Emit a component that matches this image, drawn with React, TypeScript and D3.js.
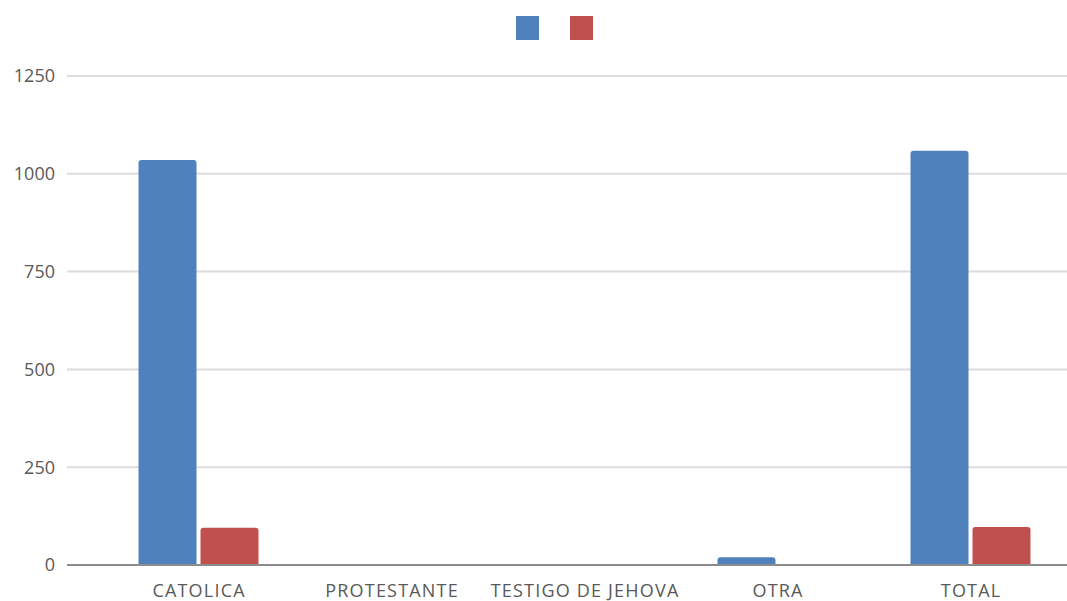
import React from "react";
import * as d3 from "d3";

const categories = ["CATOLICA", "PROTESTANTE", "TESTIGO DE JEHOVA", "OTRA", "TOTAL"];
const seriesNames = ["", ""];
const seriesA = [1035, 0, 0, 20, 1059];
const seriesB = [95, 0, 0, 0, 97];
const yTicks = [0, 250, 500, 750, 1000, 1250];
const colors = ["#4f81bd", "#c0504d"];

const W = 1067;
const H = 601;
const plotLeft = 67;
const plotRight = 1067;
const y0 = 565;
const yTop = 76;

function topRoundedRect(x: number, y: number, w: number, h: number, r: number) {
  const rr = Math.min(r, h, w / 2);
  return `M${x},${y + h}V${y + rr}Q${x},${y} ${x + rr},${y}H${x + w - rr}Q${x + w},${y} ${x + w},${y + rr}V${y + h}Z`;
}

export default function App() {
  const y = d3.scaleLinear().domain([0, 1250]).range([y0, yTop]);
  const x = d3.scaleBand<string>().domain(categories).range([102, 1067]).paddingInner(0).paddingOuter(0);
  const series = [seriesA, seriesB];
  const inner = d3
    .scaleBand<number>()
    .domain([0, 1])
    .range([0, 120])
    .paddingInner(4 / 62);
  const font = "'Open Sans', 'Noto Sans', sans-serif";
  const ls = 1.2;

  return (
    <svg width={W} height={H} style={{ position: "absolute", left: 0, top: 0, background: "#fff" }}>
      {/* legend */}
      {seriesNames.map((n, i) => (
        <rect key={"lg" + i} x={516 + i * 54} y={16} width={23} height={24} fill={colors[i]} />
      ))}
      {/* gridlines */}
      {yTicks.map((t) => (
        <g key={"g" + t}>
          {t !== 0 && (
            <line x1={plotLeft} x2={plotRight} y1={y(t)} y2={y(t)} stroke="#dcdcdc" strokeWidth={2} />
          )}
          <text
            x={55}
            y={y(t)}
            dy="0.35em"
            textAnchor="end"
            fontFamily={font}
            fontSize={18}
            fill="#595959"
          >
            {t}
          </text>
        </g>
      ))}
      {/* bars */}
      {categories.map((c, ci) => {
        const cx = (x(c) as number) + x.bandwidth() / 2;
        return series.map((s, si) => {
          const v = s[ci];
          if (v <= 0) return null;
          const bx = cx - 60 + (inner(si) as number);
          const by = y(v);
          return (
            <path
              key={c + si}
              d={topRoundedRect(bx, by, inner.bandwidth(), y0 - by, 3)}
              fill={colors[si]}
            />
          );
        });
      })}
      {/* axis line */}
      <line x1={plotLeft} x2={plotRight} y1={y0} y2={y0} stroke="#8c8c8c" strokeWidth={2} />
      {/* category labels */}
      {categories.map((c) => (
        <text
          key={"l" + c}
          x={(x(c) as number) + x.bandwidth() / 2 + ls / 2}
          y={597}
          textAnchor="middle"
          fontFamily={font}
          fontSize={18}
          letterSpacing={ls}
          fill="#595959"
        >
          {c}
        </text>
      ))}
    </svg>
  );
}
